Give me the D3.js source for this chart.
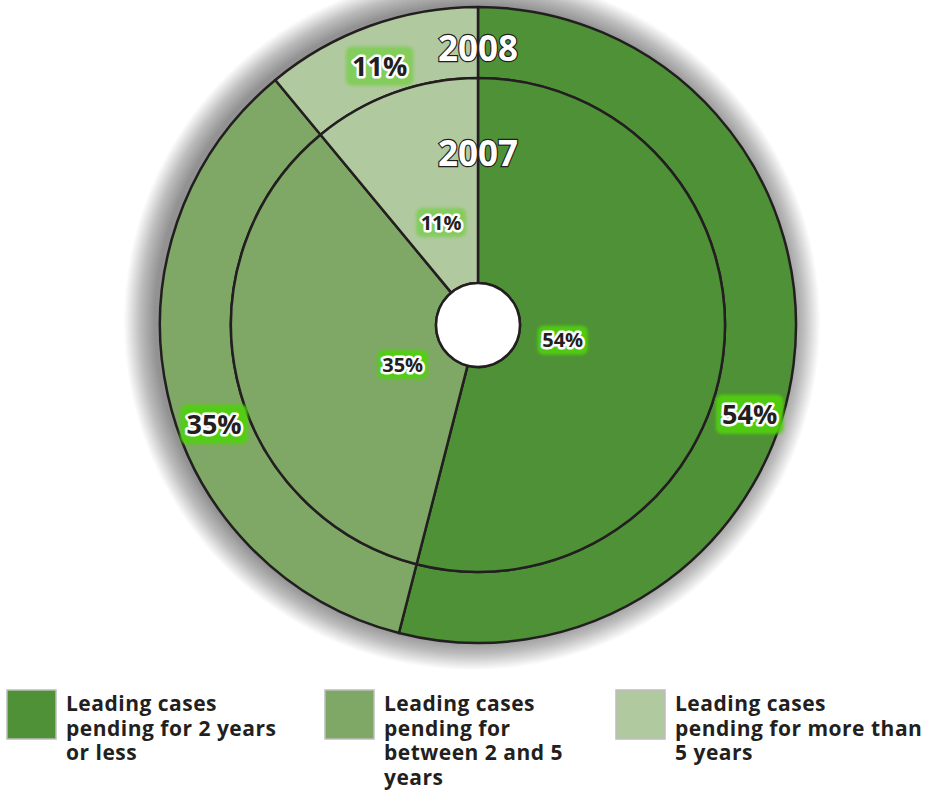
<!DOCTYPE html>
<html>
<head>
<meta charset="utf-8">
<script src="https://cdn.jsdelivr.net/npm/d3@7"></script>
<style>
  body { margin: 0; background: #fff; }
  svg { display: block; font-family: "Open Sans", sans-serif; }
</style>
</head>
<body>
<svg id="chart" width="932" height="792"></svg>
<script>
// Leading cases pending, by age, 2007 (inner ring) and 2008 (outer ring)
const categories = [
  "Leading cases pending for 2 years or less",
  "Leading cases pending for between 2 and 5 years",
  "Leading cases pending for more than 5 years",
];
const legendLines = [
  ["Leading cases", "pending for 2 years", "or less"],
  ["Leading cases", "pending for", "between 2 and 5", "years"],
  ["Leading cases", "pending for more than", "5 years"],
];
const years = ["2008", "2007"];
const values2008 = [54, 35, 11];
const values2007 = [54, 35, 11];
const colors = ["#4f9137", "#7fa866", "#b0c99f"];

const svg = d3.select("#chart");
const cx = 478, cy = 325;
const rOuter = 318, rMid = 247, rHole = 42;

const defs = svg.append("defs");
const glow = defs.append("filter").attr("id", "glow")
  .attr("x", "-30%").attr("y", "-30%").attr("width", "160%").attr("height", "160%");
glow.append("feGaussianBlur").attr("stdDeviation", 1.6);

const g = svg.append("g").attr("transform", `translate(${cx},${cy})`);

// soft shadow around the disc: stacked translucent discs, largest first
const shadowN = 30;
g.append("g").attr("transform", "translate(-6,-3)")
  .selectAll("circle")
  .data(d3.range(shadowN, -1, -1))
  .join("circle")
  .attr("r", k => rOuter + k)
  .attr("fill", "#000")
  .attr("fill-opacity", 0.015);

const pie = d3.pie().sort(null).value(d => d);
const rings = [
  { year: years[0], values: values2008, r0: rMid, r1: rOuter },
  { year: years[1], values: values2007, r0: rHole, r1: rMid },
];

rings.forEach(ring => {
  const arc = d3.arc().innerRadius(ring.r0).outerRadius(ring.r1);
  g.append("g").selectAll("path")
    .data(pie(ring.values))
    .join("path")
    .attr("d", arc)
    .attr("fill", (d, i) => colors[i])
    .attr("stroke", "#231f20")
    .attr("stroke-width", 2.5)
    .attr("stroke-linejoin", "round");
});

// centre hole
g.append("circle")
  .attr("r", rHole)
  .attr("fill", "#fff")
  .attr("stroke", "#231f20")
  .attr("stroke-width", 2.5);

// year labels on the 12 o'clock line
const yearY = [-264, -159];
years.forEach((y, i) => {
  g.append("text")
    .attr("x", 0).attr("y", yearY[i])
    .attr("text-anchor", "middle")
    .attr("font-size", 35)
    .attr("font-weight", 700)
    .attr("fill", "#fff")
    .attr("stroke", "#231f20")
    .attr("stroke-width", 2.4)
    .attr("paint-order", "stroke")
    .text(y);
});

// percentage labels (angle nudge in degrees, radius per ring)
const labelCfg = [
  { r: 286, size: 27, nudge: [11, -8, -1], dr: [0, -4, -9] },
  { r: 92, size: 20, nudge: [3, -15, 0], dr: [-6, -7, 17] },
];
rings.forEach((ring, k) => {
  const cfg = labelCfg[k];
  pie(ring.values).forEach((d, i) => {
    const a = (d.startAngle + d.endAngle) / 2 + cfg.nudge[i] * Math.PI / 180;
    const r = cfg.r + cfg.dr[i];
    const x = r * Math.sin(a), y = -r * Math.cos(a);
    const lg = g.append("g").attr("transform", `translate(${x},${y})`);
    const txt = d.value + "%";
    const w = cfg.size * 2.5, h = cfg.size * 1.45;
    lg.append("rect")
      .attr("x", -w / 2).attr("y", -h / 2)
      .attr("width", w).attr("height", h)
      .attr("rx", 6)
      .attr("fill", "#4fd10f")
      .attr("opacity", i === 2 ? 0.45 : 0.9)
      .attr("filter", "url(#glow)");
    lg.append("text")
      .attr("text-anchor", "middle")
      .attr("dy", "0.36em")
      .attr("font-size", cfg.size)
      .attr("font-weight", 700)
      .attr("fill", "#231f20")
      .attr("stroke", "#fff")
      .attr("stroke-width", 5)
      .attr("stroke-linejoin", "round")
      .attr("paint-order", "stroke")
      .text(txt);
  });
});

// legend
const legendX = [7, 325, 616];
const legend = svg.append("g").selectAll("g")
  .data(categories)
  .join("g")
  .attr("transform", (d, i) => `translate(${legendX[i]},690)`);
legend.append("rect")
  .attr("width", 49).attr("height", 49)
  .attr("fill", (d, i) => colors[i])
  .attr("stroke", "#bdbdbd")
  .attr("stroke-width", 1.5);
legend.append("text")
  .attr("x", 59)
  .attr("font-size", 21)
  .attr("font-weight", 700)
  .attr("letter-spacing", 0.5)
  .attr("fill", "#231f20")
  .selectAll("tspan")
  .data((d, i) => legendLines[i])
  .join("tspan")
  .attr("x", 59)
  .attr("y", (d, j) => 21 + j * 24.5)
  .text(d => d);
</script>
</body>
</html>
